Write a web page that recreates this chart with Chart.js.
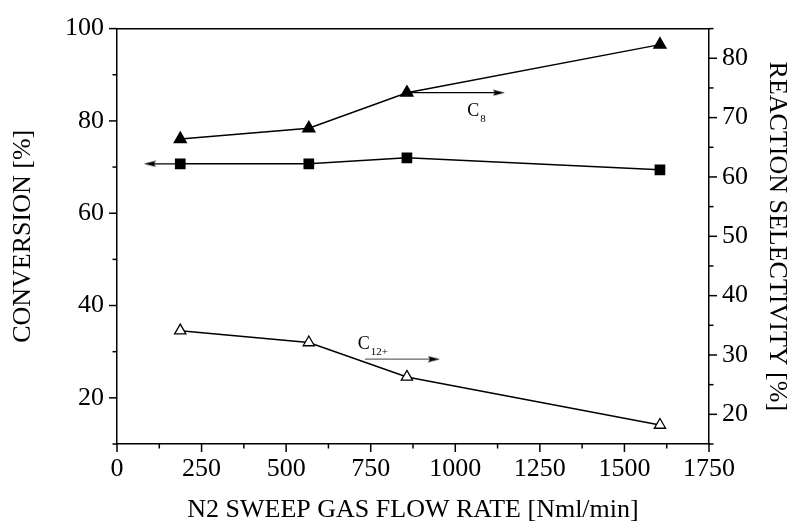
<!DOCTYPE html>
<html>
<head>
<meta charset="utf-8">
<script src="https://cdn.jsdelivr.net/npm/chart.js@4.4.0/dist/chart.umd.min.js"></script>
<style>
  html, body { margin: 0; padding: 0; background: #fff; }
  #wrap { width: 792px; height: 529px; }
</style>
</head>
<body>
<div id="wrap"><canvas id="chart"></canvas></div>
<script>
// values
const flowRate = [187, 567, 857, 1605];
const conversion = [70.7, 70.7, 72.0, 69.4];
const selC8 = [66.4, 68.2, 74.2, 82.3];
const selC12 = [34.1, 32.1, 26.3, 18.2];

// axis ranges: [min, max, tick step, label step]
const xAxis = [0, 1750, 125, 250];
const leftAxis = [10, 100, 10, 20];
const rightAxis = [15, 85, 5, 10];

// annotation arrows (start, end) in data units
const arrowConv = [[187, 70.7], [97, 70.7]];
const arrowC8 = [[857, 74.2], [1129, 74.2]];
const arrowC12 = [[733, 29.3], [937, 29.3]];
const noteC8 = ['C', '8', 1035, 70.2];
const noteC12 = ['C', '12+', 712, 31.0];

const SERIF = '"Liberation Serif", "Times New Roman", serif';
Chart.defaults.font.family = SERIF;
Chart.defaults.color = '#000';

// small arrow head used as point style
const head = document.createElement('canvas');
head.width = 12; head.height = 7;
(function(){
  const c = head.getContext('2d');
  c.fillStyle = '#000';
  c.beginPath();
  c.moveTo(0, 0.5); c.lineTo(12, 3.5); c.lineTo(0, 6.5); c.lineTo(2, 3.5);
  c.closePath();
  c.fill();
})();

const pts = (xs, ys) => xs.map((x, i) => ({ x: x, y: ys[i] }));
const seg = a => a.map(p => ({ x: p[0], y: p[1] }));

const tickMarks = {
  id: 'tickMarks',
  afterDraw(chart) {
    const ctx = chart.ctx, area = chart.chartArea;
    ctx.save();
    ctx.strokeStyle = '#000';
    ctx.lineWidth = 1.5;
    [['x', xAxis[3]], ['y', leftAxis[3]], ['y1', rightAxis[3]]].forEach(([id, major]) => {
      const s = chart.scales[id];
      s.ticks.forEach(t => {
        const len = t.value % major === 0 ? 8 : 4.5;
        const p = s.getPixelForValue(t.value);
        ctx.beginPath();
        if (id === 'x') { ctx.moveTo(p, area.bottom); ctx.lineTo(p, area.bottom + len); }
        else if (id === 'y') { ctx.moveTo(area.left, p); ctx.lineTo(area.left - len, p); }
        else { ctx.moveTo(area.right, p); ctx.lineTo(area.right + len, p); }
        ctx.stroke();
      });
    });
    // C8 / C12+ labels
    [noteC8, noteC12].forEach(n => {
      const x = chart.scales.x.getPixelForValue(n[2]);
      const y = chart.scales.y1.getPixelForValue(n[3]);
      ctx.fillStyle = '#000';
      ctx.textBaseline = 'alphabetic';
      ctx.textAlign = 'left';
      ctx.font = '18px ' + SERIF;
      ctx.fillText(n[0], x, y);
      const w = ctx.measureText(n[0]).width;
      ctx.font = '11px ' + SERIF;
      ctx.fillText(n[1], x + w + 1, y + 6);
    });
    ctx.restore();
  }
};

new Chart(document.getElementById('chart'), {
  type: 'line',
  data: {
    datasets: [
      { data: pts(flowRate, conversion), yAxisID: 'y', borderColor: '#000', borderWidth: 1.5,
        pointStyle: 'rect', pointRadius: 6.5, pointBackgroundColor: '#000', pointBorderColor: '#000' },
      { data: pts(flowRate, selC8), yAxisID: 'y1', borderColor: '#000', borderWidth: 1.5,
        pointStyle: 'triangle', pointRadius: 6.8, pointBackgroundColor: '#000', pointBorderColor: '#000' },
      { data: pts(flowRate, selC12), yAxisID: 'y1', borderColor: '#000', borderWidth: 1.5,
        pointStyle: 'triangle', pointRadius: 6.5, pointBackgroundColor: '#fff', pointBorderColor: '#000', pointBorderWidth: 1.3 },
      { data: seg(arrowConv), yAxisID: 'y', borderColor: '#000', borderWidth: 1.3,
        pointStyle: head, pointRadius: [0, 5], pointRotation: 180 },
      { data: seg(arrowC8), yAxisID: 'y1', borderColor: '#000', borderWidth: 1.3,
        pointStyle: head, pointRadius: [0, 5] },
      { data: seg(arrowC12), yAxisID: 'y1', borderColor: '#666', borderWidth: 1.3,
        pointStyle: head, pointRadius: [0, 5] }
    ]
  },
  options: {
    responsive: true,
    maintainAspectRatio: false,
    animation: false,
    layout: { padding: { top: 23, left: 0, right: 0, bottom: 0 } },
    plugins: { legend: { display: false }, tooltip: { enabled: false } },
    scales: {
      x: {
        type: 'linear', position: 'bottom', min: xAxis[0], max: xAxis[1],
        grid: { display: false, drawTicks: false },
        border: { display: true, color: '#000', width: 1.5 },
        ticks: { stepSize: xAxis[2], autoSkip: false, maxRotation: 0, padding: 10,
          font: { size: 26 }, color: '#000',
          callback: v => v % xAxis[3] === 0 ? v : '' },
        title: { display: true, text: 'N2 SWEEP GAS FLOW RATE [Nml/min]', color: '#000',
          font: { size: 26 }, padding: { top: 0, bottom: 3 } },
        afterFit: s => { s.height = 85; }
      },
      xTop: {
        type: 'linear', position: 'top', min: xAxis[0], max: xAxis[1],
        grid: { display: false, drawTicks: false },
        border: { display: true, color: '#000', width: 1.5 },
        ticks: { display: false },
        afterFit: s => { s.height = 0; }
      },
      y: {
        type: 'linear', position: 'left', min: leftAxis[0], max: leftAxis[1],
        grid: { display: false, drawTicks: false },
        border: { display: true, color: '#000', width: 1.5 },
        ticks: { stepSize: leftAxis[2], autoSkip: false, padding: 13,
          font: { size: 26 }, color: '#000',
          callback: v => v % leftAxis[3] === 0 ? v : '' },
        title: { display: true, text: 'CONVERSION [%]', color: '#000',
          font: { size: 26 }, padding: { top: 8, bottom: 0 } },
        afterFit: s => { s.width = 117; }
      },
      y1: {
        type: 'linear', position: 'right', min: rightAxis[0], max: rightAxis[1],
        grid: { display: false, drawTicks: false },
        border: { display: true, color: '#000', width: 1.5 },
        ticks: { stepSize: rightAxis[2], autoSkip: false, padding: 13,
          font: { size: 26 }, color: '#000',
          callback: v => v % rightAxis[3] === 0 ? v : '' },
        title: { display: true, text: 'REACTION SELECTIVITY [%]', color: '#000',
          font: { size: 26 }, padding: { top: 0, bottom: 0 } },
        afterFit: s => { s.width = 83; }
      }
    }
  },
  plugins: [tickMarks]
});
</script>
</body>
</html>
